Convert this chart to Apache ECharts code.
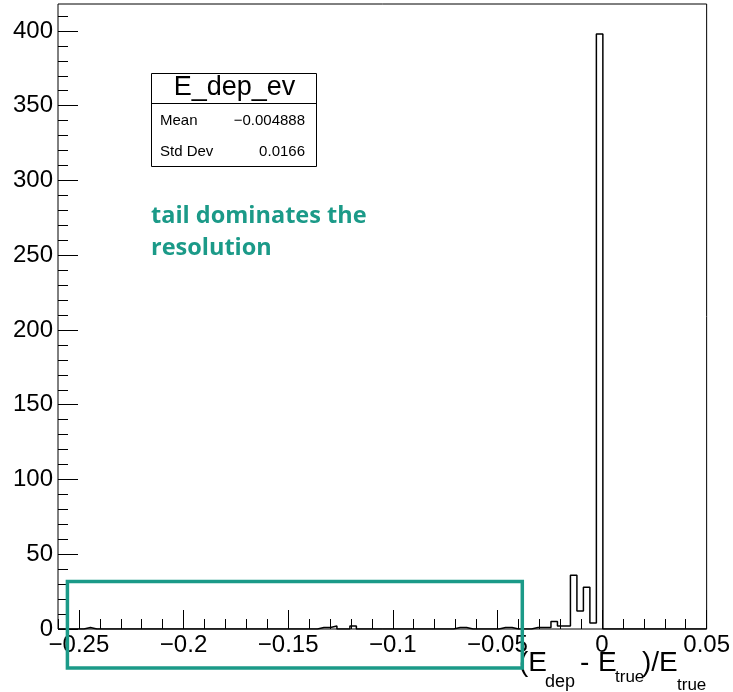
<!DOCTYPE html>
<html>
<head>
<meta charset="utf-8">
<script src="https://cdn.jsdelivr.net/npm/echarts@6/dist/echarts.min.js"></script>
<style>
  html, body { margin: 0; padding: 0; background: #ffffff; }
  #chart { width: 733px; height: 692px; }
</style>
</head>
<body>
<div id="chart"></div>
<script>
// Histogram definition: equal-width bins over [X_MIN, X_MAX]
const X_MIN = -0.26;
const X_MAX = 0.05;
const N_BINS = 100;
const Y_MAX = 418;

// Entries per bin, bin 0 .. bin 99
const binCounts = [
  0, 0, 0, 0, 1, 0, 0, 0, 0, 0,
  0, 0, 0, 0, 0, 0, 0, 0, 0, 0,
  0, 0, 0, 0, 0, 0, 0, 0, 0, 0,
  0, 0, 0, 0, 0, 0, 0, 0, 0, 0,
  1, 1, 2, 0, 0, 2, 0, 0, 0, 0,
  0, 0, 0, 0, 0, 0, 0, 0, 0, 0,
  0, 1, 1, 0, 0, 0, 0, 0, 1, 1,
  0, 0, 0, 1, 1, 1, 5, 2, 2, 36,
  12, 28, 4, 398, 0, 0, 0, 0, 0, 0,
  0, 0, 0, 0, 0, 0, 0, 0, 0, 0
];

// Axis tick labels
const xMajorTicks = [-0.25, -0.2, -0.15, -0.1, -0.05, 0, 0.05];
const yMajorTicks = [0, 50, 100, 150, 200, 250, 300, 350, 400];
const X_MINOR_STEP = 0.01;
const Y_MINOR_STEP = 10;

// Statistics box
const statsTitle = 'E_dep_ev';
const statsLabels = ['Mean', 'Std Dev'];
const statsValues = ['\u22120.004888', '0.0166'];

// Annotation
const noteLines = ['tail dominates the', 'resolution'];
const noteBox = { x0: -0.2555, x1: -0.0381, y0: -26, y1: 31.8 };
const TEAL = '#1b9a88';

// minor tick positions
function minorTicks(lo, hi, step) {
  const out = [];
  const n = Math.round((hi - lo) / step);
  for (let i = 0; i <= n; i++) out.push(+(lo + i * step).toFixed(6));
  return out;
}
const xMinorTicks = minorTicks(X_MIN, X_MAX, X_MINOR_STEP);
const yMinorTicks = minorTicks(0, Y_MAX - (Y_MAX % Y_MINOR_STEP), Y_MINOR_STEP);

// step outline points at the bin low edges
const binWidth = (X_MAX - X_MIN) / N_BINS;
const histPoints = binCounts.map((c, k) => [X_MIN + k * binWidth, c]);
histPoints.push([X_MAX, 0]);

const fmtNum = v => (v < 0 ? '\u2212' + String(Math.abs(v)) : String(v));
const FONT = 'Liberation Sans, Arial, Helvetica, sans-serif';

const chart = echarts.init(document.getElementById('chart'), null, { renderer: 'canvas' });

const axisCommon = {
  type: 'value',
  splitLine: { show: false },
  axisLine: { show: false, onZero: false }
};

chart.setOption({
  animation: false,
  backgroundColor: '#ffffff',
  grid: {
    left: 58, right: 26, top: 4, bottom: 63,
    show: true, borderColor: '#000000', borderWidth: 1,
    backgroundColor: 'transparent'
  },
  xAxis: [
    Object.assign({}, axisCommon, {
      min: X_MIN, max: X_MAX, position: 'bottom',
      axisTick: { show: true, inside: true, length: 19, customValues: xMajorTicks,
                  lineStyle: { color: '#000', width: 1 } },
      axisLabel: { show: true, customValues: xMajorTicks, formatter: fmtNum,
                   fontFamily: FONT, fontSize: 24, color: '#000', margin: 4 }
    }),
    Object.assign({}, axisCommon, {
      min: X_MIN, max: X_MAX, position: 'bottom',
      axisTick: { show: true, inside: true, length: 10, customValues: xMinorTicks,
                  lineStyle: { color: '#000', width: 1 } },
      axisLabel: { show: false }
    })
  ],
  yAxis: [
    Object.assign({}, axisCommon, {
      min: 0, max: Y_MAX, position: 'left',
      axisTick: { show: true, inside: true, length: 20, customValues: yMajorTicks,
                  lineStyle: { color: '#000', width: 1 } },
      axisLabel: { show: true, customValues: yMajorTicks, formatter: fmtNum,
                   fontFamily: FONT, fontSize: 24, color: '#000', margin: 5 }
    }),
    Object.assign({}, axisCommon, {
      min: 0, max: Y_MAX, position: 'left',
      axisTick: { show: true, inside: true, length: 10, customValues: yMinorTicks,
                  lineStyle: { color: '#000', width: 1 } },
      axisLabel: { show: false }
    })
  ],
  series: [{
    name: 'E_dep_ev',
    type: 'line',
    xAxisIndex: 0,
    yAxisIndex: 0,
    step: 'end',
    showSymbol: false,
    symbol: 'none',
    clip: true,
    lineStyle: { color: '#000000', width: 1.5 },
    data: histPoints
  }]
});

// overlays: stats box, axis title, annotation
const p0 = chart.convertToPixel({ xAxisIndex: 0, yAxisIndex: 0 }, [noteBox.x0, noteBox.y1]);
const p1 = chart.convertToPixel({ xAxisIndex: 0, yAxisIndex: 0 }, [noteBox.x1, noteBox.y0]);

const statsBox = { x: 151, y: 73, w: 165, h: 93, split: 103 };

const graphics = [
  // statistics box
  { type: 'rect', z: 50, shape: { x: statsBox.x + 0.5, y: statsBox.y + 0.5, width: statsBox.w, height: statsBox.h },
    style: { fill: '#ffffff', stroke: '#000000', lineWidth: 1 } },
  { type: 'line', z: 51, shape: { x1: statsBox.x + 0.5, y1: statsBox.split + 0.5, x2: statsBox.x + statsBox.w + 0.5, y2: statsBox.split + 0.5 },
    style: { stroke: '#000000', lineWidth: 1 } },
  { type: 'text', z: 52, x: statsBox.x + statsBox.w / 2 + 1, y: 88,
    style: { text: statsTitle, fontFamily: FONT, fontSize: 27, fill: '#000', align: 'center', verticalAlign: 'middle' } },
  { type: 'text', z: 52, x: 160, y: 121,
    style: { text: statsLabels[0], fontFamily: FONT, fontSize: 15, fill: '#000', align: 'left', verticalAlign: 'middle' } },
  { type: 'text', z: 52, x: 305, y: 121,
    style: { text: statsValues[0], fontFamily: FONT, fontSize: 15, fill: '#000', align: 'right', verticalAlign: 'middle' } },
  { type: 'text', z: 52, x: 160, y: 152,
    style: { text: statsLabels[1], fontFamily: FONT, fontSize: 15, fill: '#000', align: 'left', verticalAlign: 'middle' } },
  { type: 'text', z: 52, x: 305, y: 152,
    style: { text: statsValues[1], fontFamily: FONT, fontSize: 15, fill: '#000', align: 'right', verticalAlign: 'middle' } },

  // x axis title: (E_dep - E_true)/E_true
  { type: 'text', z: 52, x: 519, y: 663, style: { text: '(E', fontFamily: FONT, fontSize: 28, fill: '#000', verticalAlign: 'middle' } },
  { type: 'text', z: 52, x: 545, y: 682, style: { text: 'dep', fontFamily: FONT, fontSize: 18, fill: '#000', verticalAlign: 'middle' } },
  { type: 'text', z: 52, x: 580, y: 663, style: { text: '-', fontFamily: FONT, fontSize: 28, fill: '#000', verticalAlign: 'middle' } },
  { type: 'text', z: 52, x: 598, y: 663, style: { text: 'E', fontFamily: FONT, fontSize: 28, fill: '#000', verticalAlign: 'middle' } },
  { type: 'text', z: 52, x: 615, y: 677, style: { text: 'true', fontFamily: FONT, fontSize: 17, fill: '#000', verticalAlign: 'middle' } },
  { type: 'text', z: 52, x: 642, y: 663, style: { text: ')/E', fontFamily: FONT, fontSize: 28, fill: '#000', verticalAlign: 'middle' } },
  { type: 'text', z: 52, x: 677, y: 685, style: { text: 'true', fontFamily: FONT, fontSize: 17, fill: '#000', verticalAlign: 'middle' } },

  // annotation
  { type: 'text', z: 52, x: 151, y: 216,
    style: { text: noteLines[0], fontFamily: 'Open Sans, sans-serif', fontWeight: 700, fontSize: 23.5, fill: TEAL, verticalAlign: 'middle' } },
  { type: 'text', z: 52, x: 151, y: 248,
    style: { text: noteLines[1], fontFamily: 'Open Sans, sans-serif', fontWeight: 700, fontSize: 23.5, fill: TEAL, verticalAlign: 'middle' } },
  { type: 'rect', z: 53,
    shape: { x: p0[0], y: p0[1], width: p1[0] - p0[0], height: p1[1] - p0[1] },
    style: { fill: 'none', stroke: TEAL, lineWidth: 3.5 } }
];

chart.setOption({ graphic: graphics });
</script>
</body>
</html>
